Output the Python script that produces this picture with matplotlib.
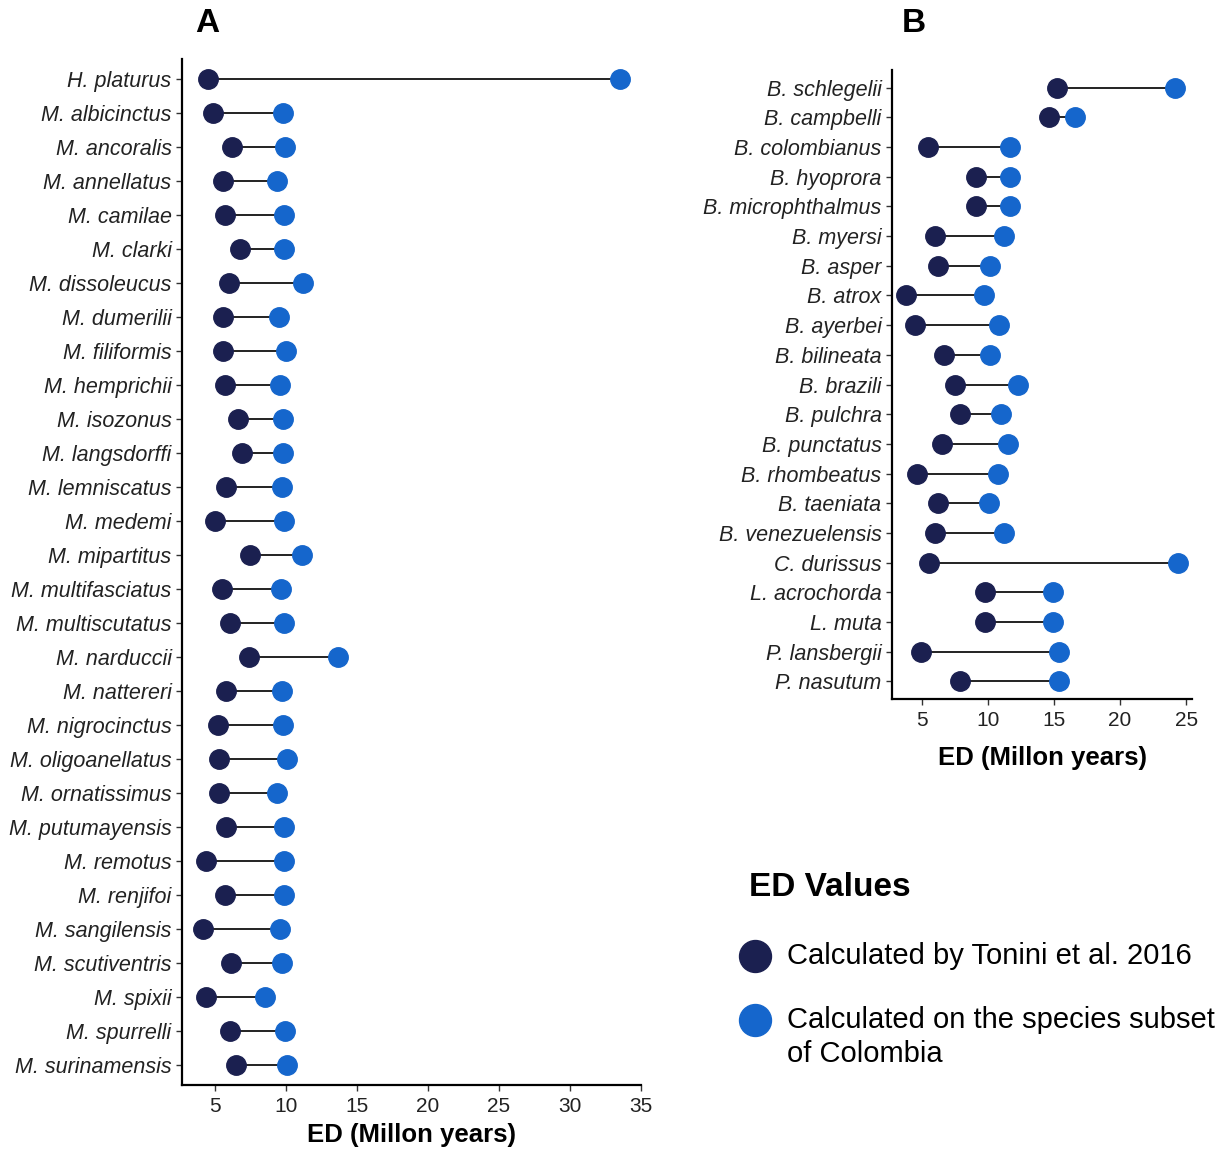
import numpy as np
import matplotlib
matplotlib.use("Agg")
import matplotlib.pyplot as plt
from matplotlib.lines import Line2D

plt.rcParams['font.family'] = ['Liberation Sans', 'DejaVu Sans']

# Panel A: Micrurus / Hydrophis
species_a = ["H. platurus", "M. albicinctus", "M. ancoralis", "M. annellatus", "M. camilae",
             "M. clarki", "M. dissoleucus", "M. dumerilii", "M. filiformis", "M. hemprichii",
             "M. isozonus", "M. langsdorffi", "M. lemniscatus", "M. medemi", "M. mipartitus",
             "M. multifasciatus", "M. multiscutatus", "M. narduccii", "M. nattereri", "M. nigrocinctus",
             "M. oligoanellatus", "M. ornatissimus", "M. putumayensis", "M. remotus", "M. renjifoi",
             "M. sangilensis", "M. scutiventris", "M. spixii", "M. spurrelli", "M. surinamensis"]
tonini_a = [4.5, 4.9, 6.2, 5.6, 5.7, 6.8, 6.0, 5.6, 5.6, 5.7,
            6.6, 6.9, 5.8, 5.0, 7.5, 5.5, 6.05, 7.4, 5.8, 5.2,
            5.3, 5.3, 5.8, 4.4, 5.7, 4.15, 6.1, 4.4, 6.05, 6.5]
colombia_a = [33.5, 9.8, 9.9, 9.4, 9.85, 9.85, 11.2, 9.5, 10.0, 9.6,
              9.8, 9.8, 9.7, 9.85, 11.1, 9.65, 9.85, 13.7, 9.7, 9.8,
              10.1, 9.4, 9.85, 9.85, 9.85, 9.6, 9.7, 8.5, 9.9, 10.1]

# Panel B: vipers
species_b = ["B. schlegelii", "B. campbelli", "B. colombianus", "B. hyoprora", "B. microphthalmus",
             "B. myersi", "B. asper", "B. atrox", "B. ayerbei", "B. bilineata",
             "B. brazili", "B. pulchra", "B. punctatus", "B. rhombeatus", "B. taeniata",
             "B. venezuelensis", "C. durissus", "L. acrochorda", "L. muta", "P. lansbergii",
             "P. nasutum"]
tonini_b = [15.2, 14.6, 5.5, 9.15, 9.15, 6.0, 6.25, 3.8, 4.5, 6.7,
            7.5, 7.9, 6.55, 4.65, 6.25, 6.05, 5.6, 9.8, 9.8, 4.95, 7.9]
colombia_b = [24.15, 16.6, 11.7, 11.7, 11.7, 11.25, 10.15, 9.7, 10.85, 10.2,
              12.3, 11.0, 11.5, 10.8, 10.1, 11.2, 24.4, 14.95, 14.95, 15.35, 15.35]

DARK = "#1b2050"
BLUE = "#1566cc"
W, H = 1232, 1149


def dumbbell(ax, names, left, right, ticks, labelpad):
    n = len(names)
    y = np.arange(n)[::-1]
    ax.hlines(y, left, right, color="#111111", lw=1.3, zorder=1)
    ax.plot(left, y, "o", color=DARK, ms=14, zorder=2)
    ax.plot(right, y, "o", color=BLUE, ms=14, zorder=3)
    lo = min(min(left), min(right))
    hi = max(max(left), max(right))
    pad = 0.05 * (hi - lo)
    ax.set_xlim(lo - pad, hi + pad)
    ax.set_ylim(-0.6, n - 1 + 0.6)
    ax.set_yticks(y)
    ax.set_yticklabels(names, fontstyle="italic", fontsize=15.5, color="#222222")
    ax.set_xticks(ticks)
    ax.tick_params(axis="x", labelsize=15, colors="#222222", pad=5)
    ax.tick_params(length=4, width=1, color="#333333")
    for s in ["top", "right"]:
        ax.spines[s].set_visible(False)
    for s in ["left", "bottom"]:
        ax.spines[s].set_linewidth(1.6)
    ax.set_xlabel("ED (Millon years)", fontsize=18.5, fontweight="bold", labelpad=labelpad)


fig = plt.figure(figsize=(W / 100, H / 100), dpi=100)

ax_a = fig.add_axes([182 / W, 1 - 1085 / H, 459 / W, (1085 - 58.6) / H])
dumbbell(ax_a, species_a, tonini_a, colombia_a, [5, 10, 15, 20, 25, 30, 35], 5)

ax_b = fig.add_axes([892 / W, 1 - 699 / H, 300 / W, (699 - 70) / H])
dumbbell(ax_b, species_b, tonini_b, colombia_b, [5, 10, 15, 20, 25], 11)

fig.text(207 / W, 1 - 23 / H, "A", ha="center", va="center", fontsize=24, fontweight="bold")
fig.text(914 / W, 1 - 23 / H, "B", ha="center", va="center", fontsize=24, fontweight="bold")

# legend drawn by hand so the marker sits on the first text line
fig.text(749 / W, 1 - 888 / H, "ED Values", ha="left", va="center", fontsize=24, fontweight="bold")
for yy, col in [(956, DARK), (1020, BLUE)]:
    fig.add_artist(Line2D([755 / W], [1 - yy / H], marker="o", color=col, ms=23,
                          transform=fig.transFigure, linestyle="none"))
fig.text(787 / W, 1 - 956 / H, "Calculated by Tonini et al. 2016", ha="left", va="center", fontsize=21)
fig.text(787 / W, 1 - 1020 / H, "Calculated on the species subset", ha="left", va="center", fontsize=21)
fig.text(787 / W, 1 - 1054 / H, "of Colombia", ha="left", va="center", fontsize=21)

fig.savefig("out.png", dpi=100)
